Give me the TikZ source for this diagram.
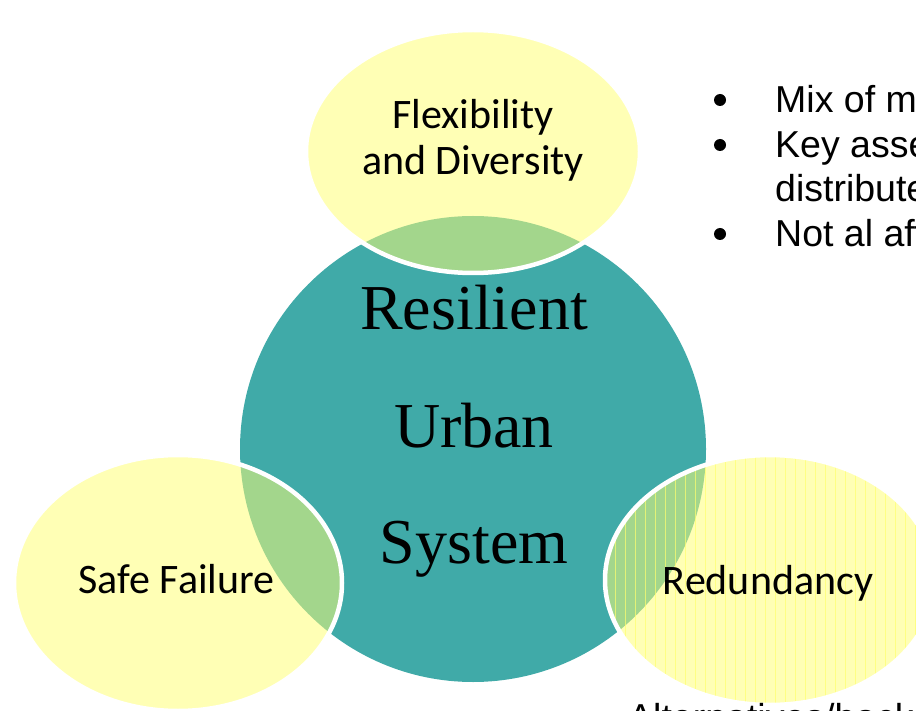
\documentclass[tikz,border=0pt]{standalone}
\usepackage{fontspec}
\setmainfont{Carlito}
\newfontfamily\hubfont{Liberation Serif}
\newfontfamily\notefont{Liberation Sans}

\definecolor{hubteal}{RGB}{64,170,168}
\definecolor{petal}{RGB}{255,255,181}
\definecolor{overlap}{RGB}{163,214,140}
\definecolor{streak}{RGB}{255,255,110}

\begin{document}
\begin{tikzpicture}[x=1pt,y=-1pt,
  petalfill/.style={fill=petal},
  lensfill/.style={fill=overlap},
  rim/.style={draw=white,line width=4.5pt},
  petallabel/.style={font=\fontsize{42}{46}\selectfont,align=center,inner sep=0pt,anchor=base},
  hublabel/.style={font=\hubfont\fontsize{64}{117}\selectfont,inner sep=0pt,anchor=base},
  notetext/.style={font=\notefont\fontsize{37.5}{44}\selectfont,inner sep=0pt,anchor=base west},
  notedot/.style={fill=black,circle,inner sep=0pt,minimum size=12pt}]

% canvas
\clip (0,0) rectangle (916,711);
\fill[white] (0,0) rectangle (916,711);

% centres of the hub and the three petals
\coordinate (hub)   at (473,449);
\coordinate (ptop)  at (473,151.5);
\coordinate (pleft) at (178,583);
\coordinate (pright) at (770,580);

% central circle
\fill[hubteal] (hub) circle (233);

% top petal
\fill[petalfill] (ptop) ellipse [x radius=167,y radius=121.5];
\begin{scope}
  \clip (hub) circle (233);
  \fill[lensfill] (ptop) ellipse [x radius=167,y radius=121.5];
\end{scope}
\draw[rim] (ptop) ellipse [x radius=167,y radius=121.5];

% left petal
\fill[petalfill] (pleft) ellipse [x radius=164,y radius=128];
\begin{scope}
  \clip (hub) circle (233);
  \fill[lensfill] (pleft) ellipse [x radius=164,y radius=128];
\end{scope}
\draw[rim] (pleft) ellipse [x radius=164,y radius=128];

% right petal (with faint vertical streaks)
\fill[petalfill] (pright) ellipse [x radius=165,y radius=125];
\begin{scope}
  \clip (hub) circle (233);
  \fill[lensfill] (pright) ellipse [x radius=165,y radius=125];
\end{scope}
\begin{scope}
  \clip (pright) ellipse [x radius=165,y radius=125];
  \foreach \sx in {605,615,...,935}
    \draw[streak,line width=1pt,opacity=0.7] (\sx,440) -- (\sx,720);
\end{scope}
\draw[rim] (pright) ellipse [x radius=165,y radius=125];

% petal labels
\node[petallabel] (flex) at (473,129) {Flexibility};
\node[petallabel] (div)  at (473,175) {and Diversity};
\node[petallabel] (safe) at (176.5,593) {Safe Failure};
\node[petallabel] (redu) at (768,594) {Redundancy};

% hub label
\node[hublabel] (res) at (474,330) {Resilient};
\node[hublabel] (urb) at (474,447) {Urban};
\node[hublabel] (sys) at (474,563) {System};

% notes on the right
\node[notedot] (b1) at (720,100) {};
\node[notedot] (b2) at (720,145) {};
\node[notedot] (b3) at (720,234) {};
\node[notetext] (n1) at (775,113) {Mix of m};
\node[notetext] (n2) at (775,158) {Key asse};
\node[notetext] (n3) at (775,202) {distribute};
\node[notetext] (n4) at (775,247) {Not al aff};
\node[notetext] (n5) at (628,730) {Alternatives/back};
\end{tikzpicture}
\end{document}
